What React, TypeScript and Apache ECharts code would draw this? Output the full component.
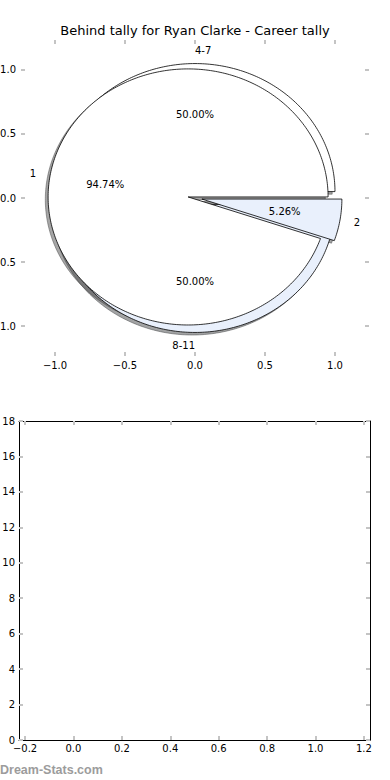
import React, { useEffect, useRef } from 'react';
import * as echarts from 'echarts';

const TITLE = 'Behind tally for Ryan Clarke - Career tally';
const WATERMARK = 'Dream-Stats.com';

// Two overlaid pies drawn on the same axes
const pieALabels = ['4-7', '8-11'];
const pieAValues = [1, 1];
const pieBLabels = ['1', '2'];
const pieBValues = [18, 1];
const pieColors = ['#ffffff', '#e9f0fc'];
const EXPLODE = 0.05;

const pieTicks = [-1, -0.5, 0, 0.5, 1];
const lowerXTicks = [-0.2, 0, 0.2, 0.4, 0.6, 0.8, 1.0, 1.2];
const lowerYMax = 18;

const FONT = 'DejaVu Sans';
const TICK_COLOR = '#c4c4c4';

type Wedge = { label: string; pct: number; t1: number; t2: number; color: string };

function buildWedges(labels: string[], values: number[]): Wedge[] {
  const total = values.reduce((a, b) => a + b, 0);
  let acc = 0;
  return values.map((v, i) => {
    const f1 = acc / total;
    acc += v;
    const f2 = acc / total;
    return { label: labels[i], pct: v / total, t1: 2 * Math.PI * f1, t2: 2 * Math.PI * f2, color: pieColors[i % pieColors.length] };
  });
}

const wedges: Wedge[] = [...buildWedges(pieALabels, pieAValues), ...buildWedges(pieBLabels, pieBValues)];

function fmt1(v: number) {
  const s = Math.abs(v).toFixed(1);
  return v < -1e-9 ? '\u2212' + s : s;
}

function wedgePoints(api: any, w: Wedge, ox: number, oy: number) {
  const mid = (w.t1 + w.t2) / 2;
  const cx = EXPLODE * Math.cos(mid) + ox;
  const cy = EXPLODE * Math.sin(mid) + oy;
  const n = Math.max(2, Math.ceil(((w.t2 - w.t1) * 180) / Math.PI));
  const pts: number[][] = [api.coord([cx, cy])];
  for (let k = 0; k <= n; k++) {
    const a = w.t1 + ((w.t2 - w.t1) * k) / n;
    pts.push(api.coord([cx + Math.cos(a), cy + Math.sin(a)]));
  }
  return pts;
}

function ticks(values?: number[]) {
  const t: any = { show: true, inside: true, length: 4, lineStyle: { color: TICK_COLOR, width: 2 } };
  if (values) t.customValues = values;
  return t;
}

function tickAxis(extra: any) {
  return {
    type: 'value',
    axisLine: { show: false, onZero: false },
    splitLine: { show: false },
    axisTick: ticks(),
    axisLabel: { show: false },
    ...extra,
  };
}

const frameLine = { show: true, onZero: false, lineStyle: { color: '#000', width: 1 } };
const labelStyle = { color: '#000', fontFamily: FONT, fontSize: 10 };

export default function App() {
  const ref = useRef<HTMLDivElement>(null);
  useEffect(() => {
    document.body.style.margin = '0';
    if (!ref.current) return;
    const chart = echarts.init(ref.current, undefined, { renderer: 'svg' });
    const idx = wedges.map((_, i) => [i]);
    const option: any = {
      animation: false,
      backgroundColor: '#fff',
      grid: [
        { left: 21, top: 40, width: 348, height: 316, outerBoundsMode: 'none', containLabel: false },
        { left: 19, top: 421, width: 351, height: 319, outerBoundsMode: 'none', containLabel: false },
      ],
      xAxis: [
        tickAxis({
          gridIndex: 0, position: 'bottom', min: -1.243, max: 1.243,
          axisTick: ticks(pieTicks),
          axisLabel: { show: true, customValues: pieTicks, formatter: fmt1, margin: 4, ...labelStyle },
        }),
        tickAxis({ gridIndex: 0, position: 'top', min: -1.243, max: 1.243, axisTick: ticks(pieTicks) }),
        tickAxis({
          gridIndex: 1, position: 'bottom', min: -0.225, max: 1.225,
          axisLine: frameLine,
          axisTick: ticks(lowerXTicks),
          axisLabel: { show: true, customValues: lowerXTicks, formatter: fmt1, margin: 3, ...labelStyle },
        }),
        tickAxis({ gridIndex: 1, position: 'top', min: -0.225, max: 1.225, axisLine: frameLine, axisTick: ticks(lowerXTicks) }),
      ],
      yAxis: [
        tickAxis({
          gridIndex: 0, position: 'left', min: -1.234, max: 1.234,
          axisTick: ticks(pieTicks),
          axisLabel: { show: true, customValues: pieTicks, formatter: fmt1, margin: 5, ...labelStyle },
        }),
        tickAxis({ gridIndex: 0, position: 'right', min: -1.234, max: 1.234, axisTick: ticks(pieTicks) }),
        tickAxis({
          gridIndex: 1, position: 'left', min: 0, max: lowerYMax, interval: 2,
          axisLine: frameLine,
          axisLabel: { show: true, margin: 4, ...labelStyle },
        }),
        tickAxis({ gridIndex: 1, position: 'right', min: 0, max: lowerYMax, interval: 2, axisLine: frameLine }),
      ],
      series: [
        {
          type: 'custom',
          xAxisIndex: 0,
          yAxisIndex: 0,
          z: 1,
          data: idx,
          renderItem: (params: any, api: any) => {
            const w = wedges[params.dataIndex];
            const dark = w.color === '#ffffff' ? '#4d4d4d' : '#464849';
            return {
              type: 'polygon',
              shape: { points: wedgePoints(api, w, -0.02, -0.02) },
              style: { fill: dark, stroke: dark, lineWidth: 1, opacity: 0.5 },
            };
          },
        },
        {
          type: 'custom',
          xAxisIndex: 0,
          yAxisIndex: 0,
          z: 2,
          data: idx,
          renderItem: (params: any, api: any) => {
            const w = wedges[params.dataIndex];
            return {
              type: 'polygon',
              shape: { points: wedgePoints(api, w, 0, 0) },
              style: { fill: w.color, stroke: '#000', lineWidth: 0.8 },
            };
          },
        },
        {
          type: 'custom',
          xAxisIndex: 0,
          yAxisIndex: 0,
          z: 3,
          data: idx,
          renderItem: (params: any, api: any) => {
            const w = wedges[params.dataIndex];
            const mid = (w.t1 + w.t2) / 2;
            const cx = EXPLODE * Math.cos(mid);
            const cy = EXPLODE * Math.sin(mid);
            const lx = cx + 1.1 * Math.cos(mid);
            const ly = cy + 1.1 * Math.sin(mid);
            const px = cx + 0.6 * Math.cos(mid);
            const py = cy + 0.6 * Math.sin(mid);
            const lp = api.coord([lx, ly]);
            const pp = api.coord([px, py]);
            return {
              type: 'group',
              children: [
                {
                  type: 'text',
                  x: lp[0],
                  y: lp[1],
                  style: { text: w.label, fill: '#000', font: `10px "${FONT}"`, align: lx > 0 ? 'left' : 'right', verticalAlign: 'middle' },
                },
                {
                  type: 'text',
                  x: pp[0],
                  y: pp[1],
                  style: { text: (w.pct * 100).toFixed(2) + '%', fill: '#000', font: `10px "${FONT}"`, align: 'center', verticalAlign: 'middle' },
                },
              ],
            };
          },
        },
        { type: 'scatter', xAxisIndex: 2, yAxisIndex: 2, data: [] },
      ],
      graphic: [
        {
          type: 'text',
          x: 195,
          y: 30,
          style: { text: TITLE, fill: '#000', font: `13px "${FONT}"`, align: 'center', verticalAlign: 'middle' },
        },
        {
          type: 'text',
          x: 0,
          y: 770,
          style: { text: WATERMARK, fill: '#9c9c9c', font: `bold 12.5px "Liberation Sans"`, align: 'left', verticalAlign: 'middle' },
        },
      ],
    };
    chart.setOption(option);
    return () => chart.dispose();
  }, []);
  return <div ref={ref} style={{ width: 390, height: 780 }} />;
}
